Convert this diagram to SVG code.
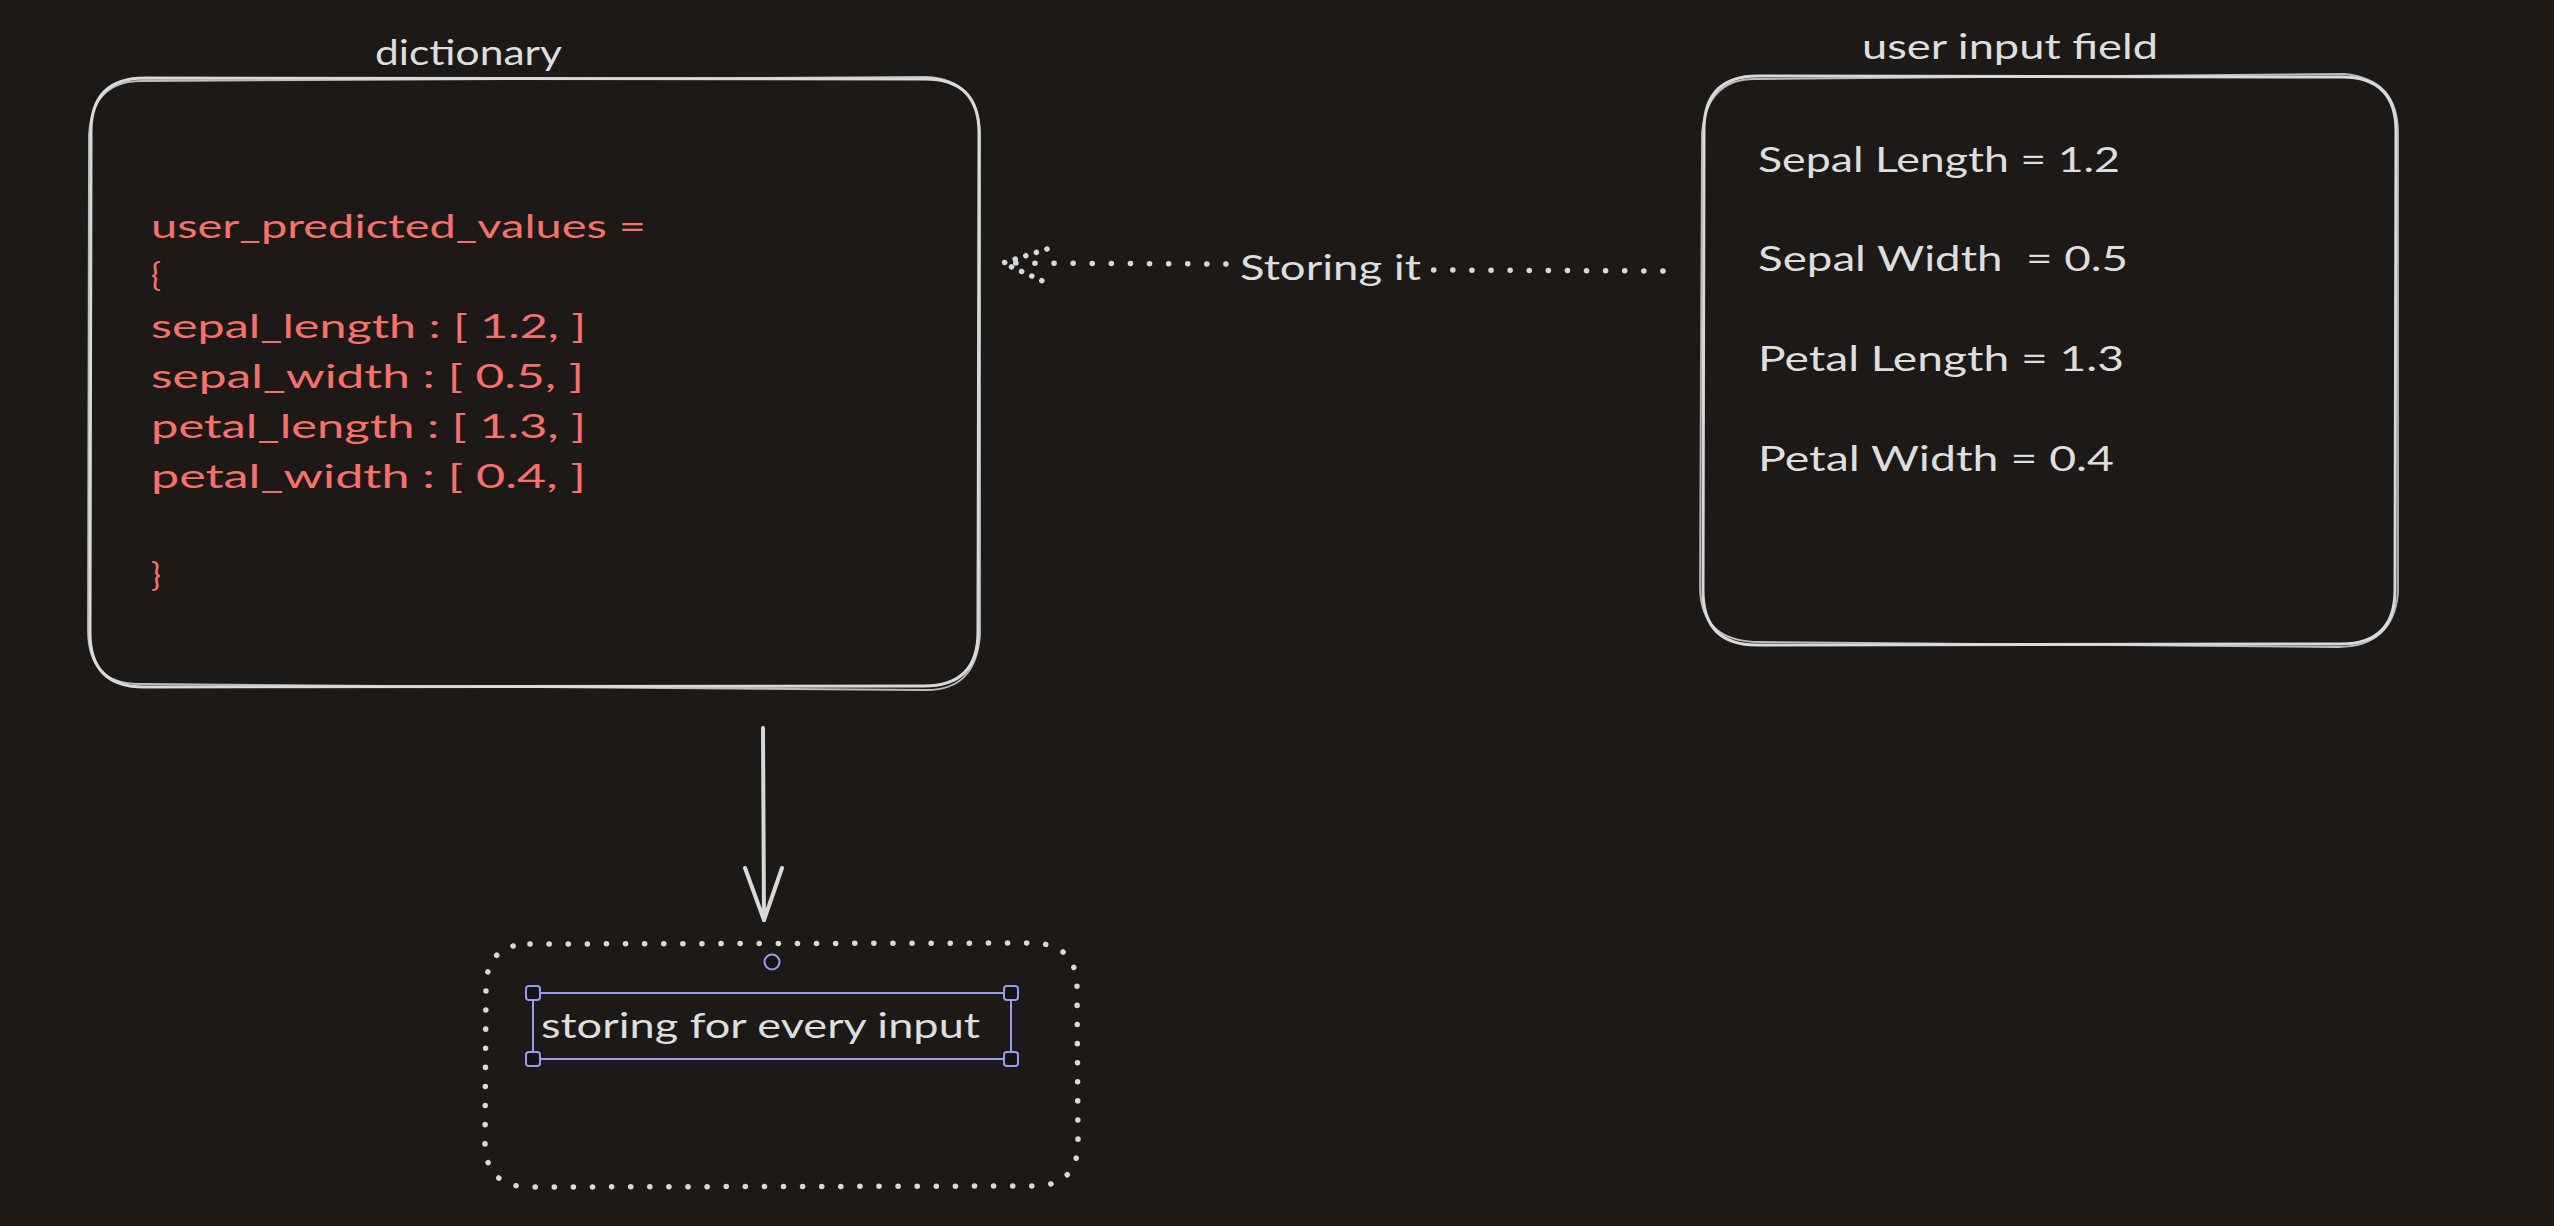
<svg xmlns="http://www.w3.org/2000/svg" width="2554" height="1226" viewBox="0 0 2554 1226">
  <style>
    .bg { fill: #1c1917; }
    .sketch { fill: none; stroke: #d9d9d9; stroke-width: 3; stroke-linejoin: round; stroke-linecap: round; }
    .sketch2 { fill: none; stroke: #d9d9d9; stroke-width: 1.8; stroke-opacity: 0.85; stroke-linejoin: round; stroke-linecap: round; }
    .dotted { fill: none; stroke: #d9d9d9; stroke-width: 5.5; stroke-linecap: round; stroke-dasharray: 0.1 19; }
    .solid { fill: none; stroke: #d9d9d9; stroke-width: 4; stroke-linecap: round; stroke-linejoin: round; }
    .txt { font-family: "Lato", "Liberation Sans", sans-serif; fill: #dedede; font-size: 34px; }
    .code { font-family: "Lato", "Liberation Sans", sans-serif; fill: #f7706c; font-size: 33px; }
    .sel { fill: none; stroke: #9c9af0; stroke-width: 2; }
    .handle { fill: #141414; stroke: #9c9af0; stroke-width: 2; }
  </style>

  <rect class="bg" x="0" y="0" width="2554" height="1226"/>

  <!-- dictionary container with its code listing -->
  <g id="node-dictionary">
    <path class="sketch" d="M 145 78 L 925 79 Q 979 79 979 133 L 978 632 Q 978 686 924 686 L 144 687 Q 90 687 90 633 L 91 132 Q 91 78 145 78 Z"/>
    <path class="sketch2" d="M 143 81 L 927 77 Q 977 80 980 131 L 980 635 Q 976 691 925 690 L 141 684 Q 88 685 88 630 L 89 135 Q 92 80 143 81 Z"/>
    <text class="txt" x="375" y="65" textLength="187" lengthAdjust="spacingAndGlyphs">dictionary</text>
    <text class="code" x="151" y="238" textLength="495" lengthAdjust="spacingAndGlyphs">user_predicted_values =</text>
    <text class="code" x="151" y="286">{</text>
    <text class="code" x="151" y="338" textLength="435" lengthAdjust="spacingAndGlyphs">sepal_length : [ 1.2, ]</text>
    <text class="code" x="151" y="388" textLength="433" lengthAdjust="spacingAndGlyphs">sepal_width : [ 0.5, ]</text>
    <text class="code" x="151" y="438" textLength="435" lengthAdjust="spacingAndGlyphs">petal_length : [ 1.3, ]</text>
    <text class="code" x="151" y="488" textLength="435" lengthAdjust="spacingAndGlyphs">petal_width : [ 0.4, ]</text>
    <text class="code" x="151" y="586">}</text>
  </g>

  <!-- user input field container -->
  <g id="node-user-input">
    <path class="sketch" d="M 1758 76 L 2342 77 Q 2396 77 2396 131 L 2395 590 Q 2395 644 2341 644 L 1757 645 Q 1703 645 1703 591 L 1704 130 Q 1704 76 1758 76 Z"/>
    <path class="sketch2" d="M 1755 79 L 2344 74 Q 2398 79 2398 133 L 2398 593 Q 2393 647 2338 647 L 1760 642 Q 1701 642 1700 588 L 1702 133 Q 1707 79 1755 79 Z"/>
    <text class="txt" x="1862" y="59" textLength="296" lengthAdjust="spacingAndGlyphs">user input field</text>
    <text class="txt" x="1758" y="172" textLength="362" lengthAdjust="spacingAndGlyphs">Sepal Length = 1.2</text>
    <text class="txt" x="1758" y="271" textLength="370" lengthAdjust="spacingAndGlyphs" xml:space="preserve">Sepal Width  = 0.5</text>
    <text class="txt" x="1758" y="371" textLength="366" lengthAdjust="spacingAndGlyphs">Petal Length = 1.3</text>
    <text class="txt" x="1758" y="471" textLength="356" lengthAdjust="spacingAndGlyphs">Petal Width = 0.4</text>
  </g>

  <!-- dotted storage box with selected text -->
  <g id="node-storing">
    <path class="dotted" d="M 530 944 L 1033 943 Q 1077 944 1077 988 L 1078 1142 Q 1078 1186 1034 1186 L 530 1187 Q 485 1187 485 1142 L 486 988 Q 486 944 530 944 Z"/>
    <text class="txt" x="541" y="1038" textLength="439" lengthAdjust="spacingAndGlyphs">storing for every input</text>
    <rect class="sel" x="533" y="993" width="478" height="66"/>
    <rect class="handle" x="526" y="986" width="14" height="14" rx="3"/>
    <rect class="handle" x="1004" y="986" width="14" height="14" rx="3"/>
    <rect class="handle" x="526" y="1052" width="14" height="14" rx="3"/>
    <rect class="handle" x="1004" y="1052" width="14" height="14" rx="3"/>
    <circle class="handle" cx="772" cy="962" r="7.5"/>
  </g>

  <!-- connectors -->
  <g id="connectors">
    <!-- user input field -> dictionary (dotted, labelled) -->
    <path class="dotted" d="M 1663 271 L 1431 270"/>
    <path class="dotted" d="M 1226 264 L 1004 263"/>
    <path class="dotted" style="stroke-dasharray:0.1 11" d="M 1047 249 L 1003 263 L 1047 283"/>
    <text class="txt" x="1240" y="280" textLength="181" lengthAdjust="spacingAndGlyphs">Storing it</text>
    <!-- dictionary -> storage box -->
    <path class="solid" d="M 763 728 L 764 920"/>
    <path class="solid" d="M 745 868 L 764 920 L 782 868"/>
  </g>
</svg>
